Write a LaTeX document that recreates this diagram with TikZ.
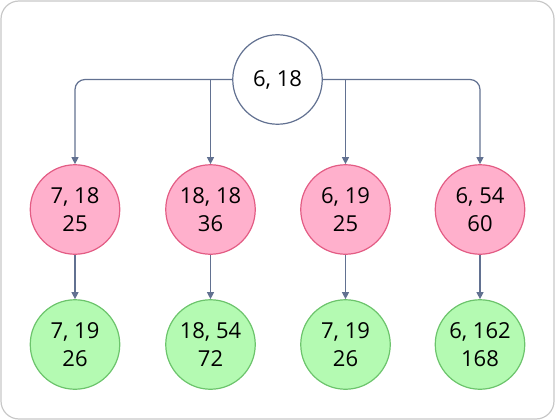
\documentclass[tikz,border=0pt]{standalone}
\usepackage{fontspec}
\setmainfont{Open Sans}
\usetikzlibrary{arrows.meta}
\definecolor{edgec}{RGB}{98,113,145}
\definecolor{pinkf}{RGB}{255,176,204}
\definecolor{pinkd}{RGB}{227,92,132}
\definecolor{greenf}{RGB}{180,250,178}
\definecolor{greend}{RGB}{108,196,108}
\definecolor{framec}{RGB}{200,200,200}
\begin{document}
\begin{tikzpicture}[x=1pt,y=-1pt,
  bubble/.style={circle, minimum size=89.5pt, inner sep=0pt, line width=1.2pt, align=center,
    font=\fontsize{22}{27.5}\selectfont},
  rootnode/.style={bubble, draw=edgec, fill=white},
  pinknode/.style={bubble, draw=pinkd, fill=pinkf},
  greennode/.style={bubble, draw=greend, fill=greenf},
  conn/.style={draw=edgec, line width=1.2pt, rounded corners=10pt, -{Triangle[length=7pt,width=7pt]}}]
\useasboundingbox (0,0) rectangle (555,420);
\draw[framec, line width=1.2pt, rounded corners=18pt] (1,1) rectangle (554,419);

\node[rootnode] (r) at (277.5,79.5) {6, 18};

\node[pinknode] (p1) at (75,209.5) {7, 18\\25};
\node[pinknode] (p2) at (210.5,209.5) {18, 18\\36};
\node[pinknode] (p3) at (345.5,209.5) {6, 19\\25};
\node[pinknode] (p4) at (480,209.5) {6, 54\\60};

\node[greennode] (g1) at (75,344.5) {7, 19\\26};
\node[greennode] (g2) at (210.5,344.5) {18, 54\\72};
\node[greennode] (g3) at (345.5,344.5) {7, 19\\26};
\node[greennode] (g4) at (480,344.5) {6, 162\\168};

\draw[conn] (r.west) -| (p1.north);
\draw[conn] (p2.north |- r.west) -- (p2.north);
\draw[conn] (p3.north |- r.east) -- (p3.north);
\draw[conn] (r.east) -| (p4.north);

\draw[conn] (p1.south) -- (g1.north);
\draw[conn] (p2.south) -- (g2.north);
\draw[conn] (p3.south) -- (g3.north);
\draw[conn] (p4.south) -- (g4.north);
\end{tikzpicture}
\end{document}
